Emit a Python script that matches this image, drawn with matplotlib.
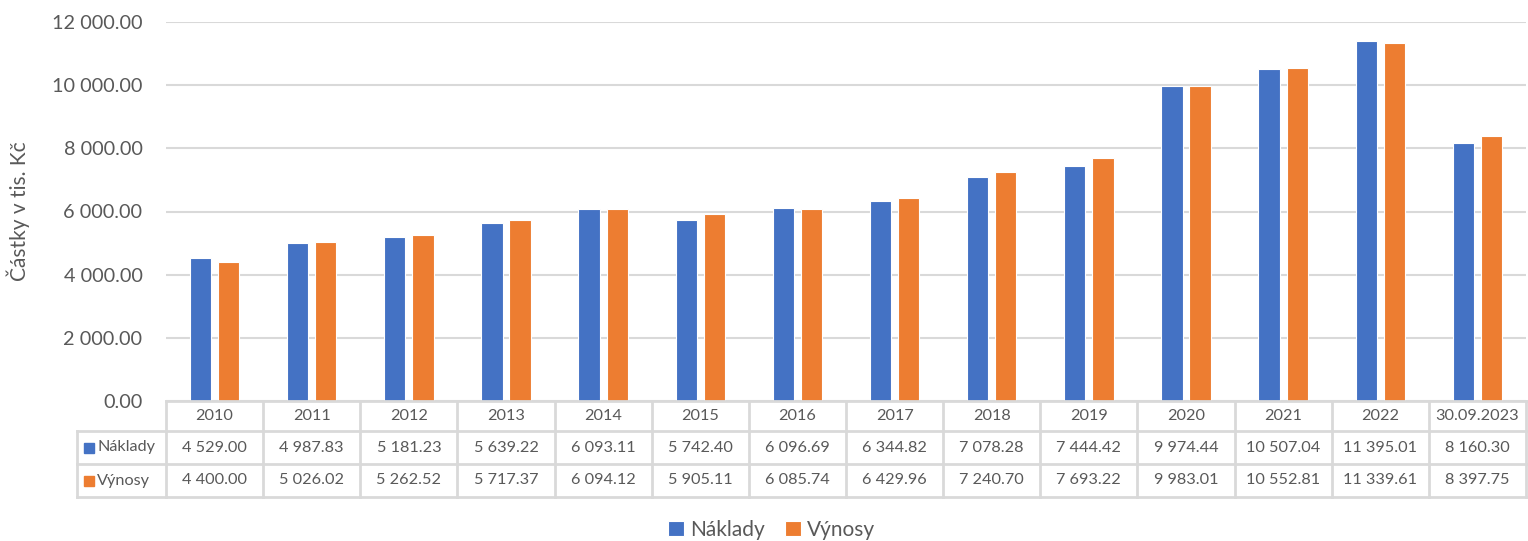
import matplotlib.pyplot as plt
import numpy as np

# data
years = ['2010', '2011', '2012', '2013', '2014', '2015', '2016', '2017',
         '2018', '2019', '2020', '2021', '2022', '30.09.2023']
naklady = [4529.00, 4987.83, 5181.23, 5639.22, 6093.11, 5742.40, 6096.69,
           6344.82, 7078.28, 7444.42, 9974.44, 10507.04, 11395.01, 8160.30]
vynosy = [4400.00, 5026.02, 5262.52, 5717.37, 6094.12, 5905.11, 6085.74,
          6429.96, 7240.70, 7693.22, 9983.01, 10552.81, 11339.61, 8397.75]
series_names = ['Náklady', 'Výnosy']
colors = ['#4472C4', '#ED7D31']

TXT = '#595959'
GRID = '#d9d9d9'

plt.rcParams['font.family'] = ['Lato', 'DejaVu Sans']


def fmt(v):
    return f'{v:,.2f}'.replace(',', ' ')


fig = plt.figure(figsize=(15.28, 5.41), dpi=100)
ax = fig.add_axes([166 / 1528, 1 - 401 / 541, 1360 / 1528, 379 / 541])

x = np.arange(len(years))
w = 0.22
off = 0.145
b1 = ax.bar(x - off, naklady, w, color=colors[0], edgecolor='white', linewidth=0.8, zorder=3)
b2 = ax.bar(x + off, vynosy, w, color=colors[1], edgecolor='white', linewidth=0.8, zorder=3)

ax.set_xlim(-0.5, len(years) - 0.5)
ax.set_ylim(0, 12000)
ax.set_yticks(np.arange(0, 12001, 2000))
ax.set_yticklabels([fmt(v) for v in np.arange(0, 12001, 2000)])
ax.tick_params(axis='y', length=0, pad=17, labelsize=14.3, labelcolor=TXT)
ax.set_xticks([])
ax.grid(axis='y', color=GRID, linewidth=1.5, zorder=0)
for s in ax.spines.values():
    s.set_visible(False)
ax.set_ylabel('Částky v tis. Kč', fontsize=15, color=TXT)
ax.yaxis.set_label_coords(-0.1, 0.5)

# data table under the axis
trans = ax.get_xaxis_transform()
h = 379.0
rows_y = [0, -30 / h, -63 / h, -96 / h]
left = -0.5 - 89 / 97.14
lkw = dict(transform=trans, clip_on=False, color=GRID, linewidth=2, zorder=4)
ax.plot([-0.5, len(years) - 0.5], [rows_y[0]] * 2, **lkw)
for ry in rows_y[1:]:
    ax.plot([left, len(years) - 0.5], [ry, ry], **lkw)
for i in range(len(years) + 1):
    ax.plot([i - 0.5, i - 0.5], [rows_y[0], rows_y[3]], **lkw)
ax.plot([left, left], [rows_y[1], rows_y[3]], **lkw)

tkw = dict(transform=trans, ha='center', va='center', fontsize=11.7, color=TXT, clip_on=False)
for i, yr in enumerate(years):
    ax.text(i, (rows_y[0] + rows_y[1]) / 2, yr, **tkw)
    ax.text(i, (rows_y[1] + rows_y[2]) / 2, fmt(naklady[i]), **tkw)
    ax.text(i, (rows_y[2] + rows_y[3]) / 2, fmt(vynosy[i]), **tkw)

for k, name in enumerate(series_names):
    yc = (rows_y[k + 1] + rows_y[k + 2]) / 2
    ax.plot([left + 0.125], [yc], marker='s', markersize=7.5, color=colors[k],
            transform=trans, clip_on=False, zorder=5)
    ax.text(left + 0.21, yc, name, transform=trans, ha='left', va='center',
            fontsize=11.7, color=TXT, clip_on=False)

leg = fig.legend([b1, b2], series_names, loc='lower center', ncol=2, frameon=False,
                 bbox_to_anchor=(0.505, -0.032), fontsize=15, handlelength=0.75,
                 handleheight=0.75, handletextpad=0.3, columnspacing=1.0)
for t in leg.get_texts():
    t.set_color(TXT)

fig.savefig('out.png', dpi=100)
